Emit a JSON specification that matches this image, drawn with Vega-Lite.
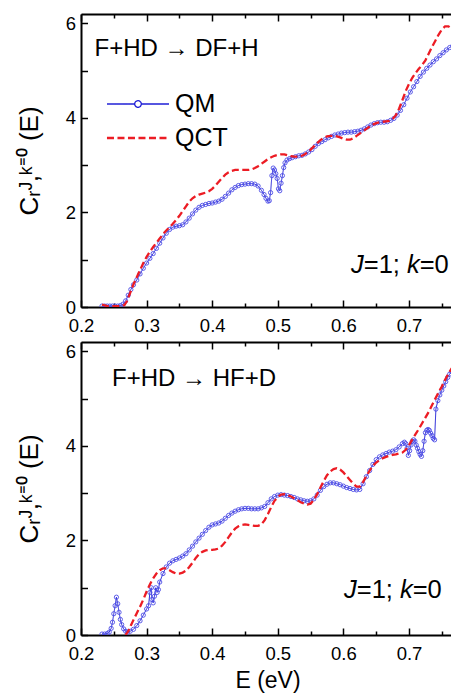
{
"$schema": "https://vega.github.io/schema/vega-lite/v6.json",
"padding": {"left": 16, "top": 13, "right": 0, "bottom": 0},
"spacing": 3,
"config": {
  "view": {"stroke": null},
  "font": "Liberation Sans",
  "axis": {"domainColor": "black", "domainWidth": 2, "tickColor": "black", "tickWidth": 1.5, "labelColor": "black", "labelFontSize": 18.5, "titleFontSize": 23, "titleFontWeight": "normal", "titleColor": "black", "grid": false, "labelFlush": false, "labelOverlap": false}
},
"resolve": {"legend": {"color": "independent", "strokeDash": "independent"}},
"datasets": {
"top": [
{"E":0.232,"C":0.02,"s":"QM"},{"E":0.236,"C":0.02,"s":"QM"},{"E":0.240,"C":0.02,"s":"QM"},{"E":0.244,"C":0.02,"s":"QM"},{"E":0.248,"C":0.02,"s":"QM"},{"E":0.252,"C":0.02,"s":"QM"},{"E":0.256,"C":0.02,"s":"QM"},{"E":0.260,"C":0.03,"s":"QM"},{"E":0.264,"C":0.06,"s":"QM"},{"E":0.268,"C":0.13,"s":"QM"},{"E":0.272,"C":0.25,"s":"QM"},{"E":0.276,"C":0.37,"s":"QM"},{"E":0.280,"C":0.47,"s":"QM"},{"E":0.285,"C":0.57,"s":"QM"},{"E":0.290,"C":0.70,"s":"QM"},{"E":0.295,"C":0.82,"s":"QM"},{"E":0.300,"C":0.93,"s":"QM"},{"E":0.305,"C":1.03,"s":"QM"},{"E":0.310,"C":1.13,"s":"QM"},{"E":0.315,"C":1.24,"s":"QM"},{"E":0.320,"C":1.35,"s":"QM"},{"E":0.325,"C":1.46,"s":"QM"},{"E":0.330,"C":1.56,"s":"QM"},{"E":0.335,"C":1.64,"s":"QM"},{"E":0.340,"C":1.69,"s":"QM"},{"E":0.345,"C":1.71,"s":"QM"},{"E":0.350,"C":1.72,"s":"QM"},{"E":0.355,"C":1.74,"s":"QM"},{"E":0.360,"C":1.80,"s":"QM"},{"E":0.365,"C":1.88,"s":"QM"},{"E":0.370,"C":1.97,"s":"QM"},{"E":0.375,"C":2.05,"s":"QM"},{"E":0.380,"C":2.11,"s":"QM"},{"E":0.385,"C":2.15,"s":"QM"},{"E":0.390,"C":2.17,"s":"QM"},{"E":0.395,"C":2.19,"s":"QM"},{"E":0.400,"C":2.20,"s":"QM"},{"E":0.405,"C":2.22,"s":"QM"},{"E":0.410,"C":2.24,"s":"QM"},{"E":0.415,"C":2.28,"s":"QM"},{"E":0.420,"C":2.34,"s":"QM"},{"E":0.425,"C":2.41,"s":"QM"},{"E":0.430,"C":2.48,"s":"QM"},{"E":0.435,"C":2.53,"s":"QM"},{"E":0.440,"C":2.57,"s":"QM"},{"E":0.445,"C":2.59,"s":"QM"},{"E":0.450,"C":2.60,"s":"QM"},{"E":0.455,"C":2.61,"s":"QM"},{"E":0.460,"C":2.61,"s":"QM"},{"E":0.465,"C":2.60,"s":"QM"},{"E":0.470,"C":2.56,"s":"QM"},{"E":0.475,"C":2.47,"s":"QM"},{"E":0.479,"C":2.38,"s":"QM"},{"E":0.482,"C":2.30,"s":"QM"},{"E":0.485,"C":2.24,"s":"QM"},{"E":0.487,"C":2.25,"s":"QM"},{"E":0.489,"C":2.42,"s":"QM"},{"E":0.491,"C":2.78,"s":"QM"},{"E":0.493,"C":2.94,"s":"QM"},{"E":0.495,"C":2.90,"s":"QM"},{"E":0.497,"C":2.82,"s":"QM"},{"E":0.499,"C":2.72,"s":"QM"},{"E":0.501,"C":2.50,"s":"QM"},{"E":0.503,"C":2.46,"s":"QM"},{"E":0.505,"C":2.62,"s":"QM"},{"E":0.507,"C":2.78,"s":"QM"},{"E":0.509,"C":2.95,"s":"QM"},{"E":0.511,"C":3.05,"s":"QM"},{"E":0.514,"C":3.11,"s":"QM"},{"E":0.518,"C":3.14,"s":"QM"},{"E":0.522,"C":3.16,"s":"QM"},{"E":0.527,"C":3.18,"s":"QM"},{"E":0.532,"C":3.20,"s":"QM"},{"E":0.537,"C":3.21,"s":"QM"},{"E":0.542,"C":3.24,"s":"QM"},{"E":0.547,"C":3.28,"s":"QM"},{"E":0.552,"C":3.33,"s":"QM"},{"E":0.557,"C":3.40,"s":"QM"},{"E":0.562,"C":3.46,"s":"QM"},{"E":0.567,"C":3.50,"s":"QM"},{"E":0.572,"C":3.54,"s":"QM"},{"E":0.577,"C":3.58,"s":"QM"},{"E":0.582,"C":3.61,"s":"QM"},{"E":0.587,"C":3.64,"s":"QM"},{"E":0.592,"C":3.66,"s":"QM"},{"E":0.597,"C":3.68,"s":"QM"},{"E":0.602,"C":3.69,"s":"QM"},{"E":0.607,"C":3.70,"s":"QM"},{"E":0.612,"C":3.70,"s":"QM"},{"E":0.617,"C":3.71,"s":"QM"},{"E":0.622,"C":3.72,"s":"QM"},{"E":0.627,"C":3.74,"s":"QM"},{"E":0.632,"C":3.77,"s":"QM"},{"E":0.637,"C":3.81,"s":"QM"},{"E":0.642,"C":3.85,"s":"QM"},{"E":0.647,"C":3.88,"s":"QM"},{"E":0.652,"C":3.90,"s":"QM"},{"E":0.657,"C":3.91,"s":"QM"},{"E":0.662,"C":3.91,"s":"QM"},{"E":0.667,"C":3.92,"s":"QM"},{"E":0.672,"C":3.95,"s":"QM"},{"E":0.677,"C":3.99,"s":"QM"},{"E":0.682,"C":4.06,"s":"QM"},{"E":0.687,"C":4.16,"s":"QM"},{"E":0.692,"C":4.28,"s":"QM"},{"E":0.697,"C":4.42,"s":"QM"},{"E":0.702,"C":4.55,"s":"QM"},{"E":0.707,"C":4.66,"s":"QM"},{"E":0.712,"C":4.77,"s":"QM"},{"E":0.717,"C":4.88,"s":"QM"},{"E":0.722,"C":4.97,"s":"QM"},{"E":0.727,"C":5.05,"s":"QM"},{"E":0.732,"C":5.12,"s":"QM"},{"E":0.737,"C":5.19,"s":"QM"},{"E":0.742,"C":5.25,"s":"QM"},{"E":0.747,"C":5.32,"s":"QM"},{"E":0.752,"C":5.38,"s":"QM"},{"E":0.757,"C":5.44,"s":"QM"},{"E":0.762,"C":5.49,"s":"QM"},{"E":0.767,"C":5.53,"s":"QM"},
{"E":0.232,"C":0.05,"s":"QCT"},{"E":0.240,"C":0.02,"s":"QCT"},{"E":0.250,"C":0.02,"s":"QCT"},{"E":0.260,"C":0.02,"s":"QCT"},{"E":0.266,"C":0.04,"s":"QCT"},{"E":0.270,"C":0.12,"s":"QCT"},{"E":0.275,"C":0.30,"s":"QCT"},{"E":0.280,"C":0.48,"s":"QCT"},{"E":0.285,"C":0.63,"s":"QCT"},{"E":0.290,"C":0.78,"s":"QCT"},{"E":0.295,"C":0.93,"s":"QCT"},{"E":0.300,"C":1.06,"s":"QCT"},{"E":0.305,"C":1.17,"s":"QCT"},{"E":0.310,"C":1.27,"s":"QCT"},{"E":0.315,"C":1.36,"s":"QCT"},{"E":0.320,"C":1.45,"s":"QCT"},{"E":0.325,"C":1.54,"s":"QCT"},{"E":0.330,"C":1.62,"s":"QCT"},{"E":0.335,"C":1.69,"s":"QCT"},{"E":0.340,"C":1.76,"s":"QCT"},{"E":0.345,"C":1.84,"s":"QCT"},{"E":0.350,"C":1.93,"s":"QCT"},{"E":0.355,"C":2.03,"s":"QCT"},{"E":0.360,"C":2.13,"s":"QCT"},{"E":0.365,"C":2.23,"s":"QCT"},{"E":0.370,"C":2.30,"s":"QCT"},{"E":0.375,"C":2.35,"s":"QCT"},{"E":0.380,"C":2.38,"s":"QCT"},{"E":0.385,"C":2.40,"s":"QCT"},{"E":0.390,"C":2.42,"s":"QCT"},{"E":0.395,"C":2.45,"s":"QCT"},{"E":0.400,"C":2.50,"s":"QCT"},{"E":0.405,"C":2.57,"s":"QCT"},{"E":0.410,"C":2.65,"s":"QCT"},{"E":0.415,"C":2.73,"s":"QCT"},{"E":0.420,"C":2.80,"s":"QCT"},{"E":0.425,"C":2.85,"s":"QCT"},{"E":0.430,"C":2.88,"s":"QCT"},{"E":0.435,"C":2.90,"s":"QCT"},{"E":0.440,"C":2.90,"s":"QCT"},{"E":0.445,"C":2.90,"s":"QCT"},{"E":0.450,"C":2.90,"s":"QCT"},{"E":0.455,"C":2.90,"s":"QCT"},{"E":0.460,"C":2.91,"s":"QCT"},{"E":0.465,"C":2.94,"s":"QCT"},{"E":0.470,"C":2.98,"s":"QCT"},{"E":0.475,"C":3.03,"s":"QCT"},{"E":0.480,"C":3.08,"s":"QCT"},{"E":0.485,"C":3.13,"s":"QCT"},{"E":0.490,"C":3.17,"s":"QCT"},{"E":0.495,"C":3.20,"s":"QCT"},{"E":0.500,"C":3.22,"s":"QCT"},{"E":0.505,"C":3.23,"s":"QCT"},{"E":0.510,"C":3.23,"s":"QCT"},{"E":0.515,"C":3.21,"s":"QCT"},{"E":0.520,"C":3.19,"s":"QCT"},{"E":0.525,"C":3.18,"s":"QCT"},{"E":0.530,"C":3.18,"s":"QCT"},{"E":0.535,"C":3.19,"s":"QCT"},{"E":0.540,"C":3.22,"s":"QCT"},{"E":0.545,"C":3.27,"s":"QCT"},{"E":0.550,"C":3.33,"s":"QCT"},{"E":0.555,"C":3.40,"s":"QCT"},{"E":0.560,"C":3.47,"s":"QCT"},{"E":0.565,"C":3.53,"s":"QCT"},{"E":0.570,"C":3.58,"s":"QCT"},{"E":0.575,"C":3.61,"s":"QCT"},{"E":0.580,"C":3.62,"s":"QCT"},{"E":0.585,"C":3.62,"s":"QCT"},{"E":0.590,"C":3.61,"s":"QCT"},{"E":0.595,"C":3.59,"s":"QCT"},{"E":0.600,"C":3.56,"s":"QCT"},{"E":0.605,"C":3.54,"s":"QCT"},{"E":0.610,"C":3.54,"s":"QCT"},{"E":0.615,"C":3.57,"s":"QCT"},{"E":0.620,"C":3.62,"s":"QCT"},{"E":0.625,"C":3.67,"s":"QCT"},{"E":0.630,"C":3.72,"s":"QCT"},{"E":0.635,"C":3.77,"s":"QCT"},{"E":0.640,"C":3.82,"s":"QCT"},{"E":0.645,"C":3.86,"s":"QCT"},{"E":0.650,"C":3.89,"s":"QCT"},{"E":0.655,"C":3.91,"s":"QCT"},{"E":0.660,"C":3.92,"s":"QCT"},{"E":0.665,"C":3.93,"s":"QCT"},{"E":0.670,"C":3.94,"s":"QCT"},{"E":0.675,"C":3.98,"s":"QCT"},{"E":0.680,"C":4.06,"s":"QCT"},{"E":0.685,"C":4.20,"s":"QCT"},{"E":0.690,"C":4.38,"s":"QCT"},{"E":0.695,"C":4.57,"s":"QCT"},{"E":0.700,"C":4.72,"s":"QCT"},{"E":0.705,"C":4.85,"s":"QCT"},{"E":0.710,"C":4.95,"s":"QCT"},{"E":0.715,"C":5.04,"s":"QCT"},{"E":0.720,"C":5.12,"s":"QCT"},{"E":0.725,"C":5.22,"s":"QCT"},{"E":0.730,"C":5.36,"s":"QCT"},{"E":0.735,"C":5.50,"s":"QCT"},{"E":0.740,"C":5.63,"s":"QCT"},{"E":0.745,"C":5.76,"s":"QCT"},{"E":0.750,"C":5.87,"s":"QCT"},{"E":0.755,"C":5.94,"s":"QCT"},{"E":0.760,"C":5.94,"s":"QCT"},{"E":0.765,"C":5.89,"s":"QCT"},{"E":0.770,"C":5.85,"s":"QCT"}
],
"bottom": [
{"E":0.232,"C":0.02,"s":"QM"},{"E":0.236,"C":0.02,"s":"QM"},{"E":0.240,"C":0.03,"s":"QM"},{"E":0.243,"C":0.06,"s":"QM"},{"E":0.246,"C":0.14,"s":"QM"},{"E":0.248,"C":0.27,"s":"QM"},{"E":0.250,"C":0.45,"s":"QM"},{"E":0.252,"C":0.62,"s":"QM"},{"E":0.254,"C":0.80,"s":"QM"},{"E":0.256,"C":0.66,"s":"QM"},{"E":0.258,"C":0.48,"s":"QM"},{"E":0.260,"C":0.33,"s":"QM"},{"E":0.262,"C":0.22,"s":"QM"},{"E":0.265,"C":0.13,"s":"QM"},{"E":0.268,"C":0.08,"s":"QM"},{"E":0.271,"C":0.06,"s":"QM"},{"E":0.275,"C":0.08,"s":"QM"},{"E":0.280,"C":0.12,"s":"QM"},{"E":0.285,"C":0.20,"s":"QM"},{"E":0.290,"C":0.30,"s":"QM"},{"E":0.295,"C":0.42,"s":"QM"},{"E":0.300,"C":0.55,"s":"QM"},{"E":0.303,"C":0.62,"s":"QM"},{"E":0.305,"C":0.90,"s":"QM"},{"E":0.307,"C":1.00,"s":"QM"},{"E":0.308,"C":0.75,"s":"QM"},{"E":0.310,"C":0.68,"s":"QM"},{"E":0.312,"C":0.82,"s":"QM"},{"E":0.314,"C":1.00,"s":"QM"},{"E":0.316,"C":0.90,"s":"QM"},{"E":0.318,"C":0.96,"s":"QM"},{"E":0.320,"C":1.12,"s":"QM"},{"E":0.325,"C":1.30,"s":"QM"},{"E":0.330,"C":1.44,"s":"QM"},{"E":0.335,"C":1.52,"s":"QM"},{"E":0.340,"C":1.57,"s":"QM"},{"E":0.345,"C":1.60,"s":"QM"},{"E":0.350,"C":1.63,"s":"QM"},{"E":0.355,"C":1.67,"s":"QM"},{"E":0.360,"C":1.72,"s":"QM"},{"E":0.365,"C":1.80,"s":"QM"},{"E":0.370,"C":1.88,"s":"QM"},{"E":0.375,"C":1.97,"s":"QM"},{"E":0.380,"C":2.05,"s":"QM"},{"E":0.385,"C":2.13,"s":"QM"},{"E":0.390,"C":2.21,"s":"QM"},{"E":0.395,"C":2.28,"s":"QM"},{"E":0.400,"C":2.33,"s":"QM"},{"E":0.405,"C":2.35,"s":"QM"},{"E":0.410,"C":2.37,"s":"QM"},{"E":0.415,"C":2.41,"s":"QM"},{"E":0.420,"C":2.47,"s":"QM"},{"E":0.425,"C":2.53,"s":"QM"},{"E":0.430,"C":2.58,"s":"QM"},{"E":0.435,"C":2.62,"s":"QM"},{"E":0.440,"C":2.65,"s":"QM"},{"E":0.445,"C":2.67,"s":"QM"},{"E":0.450,"C":2.68,"s":"QM"},{"E":0.455,"C":2.68,"s":"QM"},{"E":0.460,"C":2.67,"s":"QM"},{"E":0.465,"C":2.67,"s":"QM"},{"E":0.470,"C":2.67,"s":"QM"},{"E":0.475,"C":2.69,"s":"QM"},{"E":0.480,"C":2.72,"s":"QM"},{"E":0.485,"C":2.80,"s":"QM"},{"E":0.490,"C":2.88,"s":"QM"},{"E":0.495,"C":2.93,"s":"QM"},{"E":0.500,"C":2.96,"s":"QM"},{"E":0.505,"C":2.97,"s":"QM"},{"E":0.510,"C":2.96,"s":"QM"},{"E":0.515,"C":2.95,"s":"QM"},{"E":0.520,"C":2.93,"s":"QM"},{"E":0.525,"C":2.91,"s":"QM"},{"E":0.530,"C":2.88,"s":"QM"},{"E":0.535,"C":2.86,"s":"QM"},{"E":0.540,"C":2.84,"s":"QM"},{"E":0.545,"C":2.83,"s":"QM"},{"E":0.550,"C":2.84,"s":"QM"},{"E":0.555,"C":2.88,"s":"QM"},{"E":0.560,"C":2.96,"s":"QM"},{"E":0.565,"C":3.06,"s":"QM"},{"E":0.570,"C":3.14,"s":"QM"},{"E":0.575,"C":3.19,"s":"QM"},{"E":0.580,"C":3.22,"s":"QM"},{"E":0.585,"C":3.22,"s":"QM"},{"E":0.590,"C":3.20,"s":"QM"},{"E":0.595,"C":3.18,"s":"QM"},{"E":0.600,"C":3.15,"s":"QM"},{"E":0.605,"C":3.12,"s":"QM"},{"E":0.610,"C":3.10,"s":"QM"},{"E":0.615,"C":3.08,"s":"QM"},{"E":0.620,"C":3.07,"s":"QM"},{"E":0.625,"C":3.08,"s":"QM"},{"E":0.630,"C":3.20,"s":"QM"},{"E":0.635,"C":3.35,"s":"QM"},{"E":0.640,"C":3.48,"s":"QM"},{"E":0.645,"C":3.61,"s":"QM"},{"E":0.650,"C":3.71,"s":"QM"},{"E":0.655,"C":3.77,"s":"QM"},{"E":0.660,"C":3.81,"s":"QM"},{"E":0.665,"C":3.84,"s":"QM"},{"E":0.670,"C":3.87,"s":"QM"},{"E":0.675,"C":3.89,"s":"QM"},{"E":0.680,"C":3.92,"s":"QM"},{"E":0.685,"C":3.98,"s":"QM"},{"E":0.690,"C":4.05,"s":"QM"},{"E":0.693,"C":4.08,"s":"QM"},{"E":0.695,"C":4.05,"s":"QM"},{"E":0.697,"C":3.95,"s":"QM"},{"E":0.699,"C":3.80,"s":"QM"},{"E":0.701,"C":3.90,"s":"QM"},{"E":0.703,"C":4.02,"s":"QM"},{"E":0.705,"C":4.10,"s":"QM"},{"E":0.707,"C":4.13,"s":"QM"},{"E":0.709,"C":4.10,"s":"QM"},{"E":0.711,"C":4.02,"s":"QM"},{"E":0.713,"C":3.95,"s":"QM"},{"E":0.715,"C":3.88,"s":"QM"},{"E":0.717,"C":3.82,"s":"QM"},{"E":0.719,"C":3.78,"s":"QM"},{"E":0.721,"C":3.90,"s":"QM"},{"E":0.723,"C":4.10,"s":"QM"},{"E":0.725,"C":4.28,"s":"QM"},{"E":0.727,"C":4.33,"s":"QM"},{"E":0.729,"C":4.35,"s":"QM"},{"E":0.731,"C":4.33,"s":"QM"},{"E":0.733,"C":4.27,"s":"QM"},{"E":0.735,"C":4.22,"s":"QM"},{"E":0.737,"C":4.16,"s":"QM"},{"E":0.739,"C":4.13,"s":"QM"},{"E":0.741,"C":4.78,"s":"QM"},{"E":0.744,"C":4.96,"s":"QM"},{"E":0.747,"C":5.08,"s":"QM"},{"E":0.750,"C":5.18,"s":"QM"},{"E":0.753,"C":5.27,"s":"QM"},{"E":0.756,"C":5.36,"s":"QM"},{"E":0.759,"C":5.45,"s":"QM"},{"E":0.762,"C":5.52,"s":"QM"},{"E":0.765,"C":5.57,"s":"QM"},{"E":0.768,"C":5.60,"s":"QM"},
{"E":0.268,"C":0.00,"s":"QCT"},{"E":0.272,"C":0.08,"s":"QCT"},{"E":0.276,"C":0.20,"s":"QCT"},{"E":0.280,"C":0.32,"s":"QCT"},{"E":0.285,"C":0.46,"s":"QCT"},{"E":0.290,"C":0.60,"s":"QCT"},{"E":0.295,"C":0.75,"s":"QCT"},{"E":0.300,"C":0.92,"s":"QCT"},{"E":0.305,"C":1.07,"s":"QCT"},{"E":0.310,"C":1.20,"s":"QCT"},{"E":0.315,"C":1.30,"s":"QCT"},{"E":0.320,"C":1.37,"s":"QCT"},{"E":0.325,"C":1.41,"s":"QCT"},{"E":0.330,"C":1.41,"s":"QCT"},{"E":0.335,"C":1.37,"s":"QCT"},{"E":0.340,"C":1.33,"s":"QCT"},{"E":0.345,"C":1.30,"s":"QCT"},{"E":0.350,"C":1.30,"s":"QCT"},{"E":0.355,"C":1.32,"s":"QCT"},{"E":0.360,"C":1.36,"s":"QCT"},{"E":0.365,"C":1.44,"s":"QCT"},{"E":0.370,"C":1.53,"s":"QCT"},{"E":0.375,"C":1.63,"s":"QCT"},{"E":0.380,"C":1.71,"s":"QCT"},{"E":0.385,"C":1.76,"s":"QCT"},{"E":0.390,"C":1.79,"s":"QCT"},{"E":0.395,"C":1.80,"s":"QCT"},{"E":0.400,"C":1.80,"s":"QCT"},{"E":0.405,"C":1.81,"s":"QCT"},{"E":0.410,"C":1.83,"s":"QCT"},{"E":0.415,"C":1.89,"s":"QCT"},{"E":0.420,"C":1.97,"s":"QCT"},{"E":0.425,"C":2.07,"s":"QCT"},{"E":0.430,"C":2.17,"s":"QCT"},{"E":0.435,"C":2.25,"s":"QCT"},{"E":0.440,"C":2.30,"s":"QCT"},{"E":0.445,"C":2.33,"s":"QCT"},{"E":0.450,"C":2.34,"s":"QCT"},{"E":0.455,"C":2.33,"s":"QCT"},{"E":0.460,"C":2.32,"s":"QCT"},{"E":0.465,"C":2.31,"s":"QCT"},{"E":0.470,"C":2.31,"s":"QCT"},{"E":0.475,"C":2.34,"s":"QCT"},{"E":0.480,"C":2.43,"s":"QCT"},{"E":0.485,"C":2.56,"s":"QCT"},{"E":0.490,"C":2.71,"s":"QCT"},{"E":0.495,"C":2.84,"s":"QCT"},{"E":0.500,"C":2.92,"s":"QCT"},{"E":0.505,"C":2.97,"s":"QCT"},{"E":0.510,"C":2.98,"s":"QCT"},{"E":0.515,"C":2.96,"s":"QCT"},{"E":0.520,"C":2.93,"s":"QCT"},{"E":0.525,"C":2.89,"s":"QCT"},{"E":0.530,"C":2.85,"s":"QCT"},{"E":0.535,"C":2.81,"s":"QCT"},{"E":0.540,"C":2.78,"s":"QCT"},{"E":0.545,"C":2.76,"s":"QCT"},{"E":0.550,"C":2.78,"s":"QCT"},{"E":0.555,"C":2.86,"s":"QCT"},{"E":0.560,"C":2.98,"s":"QCT"},{"E":0.565,"C":3.12,"s":"QCT"},{"E":0.570,"C":3.26,"s":"QCT"},{"E":0.575,"C":3.38,"s":"QCT"},{"E":0.580,"C":3.46,"s":"QCT"},{"E":0.585,"C":3.51,"s":"QCT"},{"E":0.590,"C":3.53,"s":"QCT"},{"E":0.595,"C":3.50,"s":"QCT"},{"E":0.600,"C":3.44,"s":"QCT"},{"E":0.605,"C":3.36,"s":"QCT"},{"E":0.610,"C":3.28,"s":"QCT"},{"E":0.615,"C":3.20,"s":"QCT"},{"E":0.620,"C":3.14,"s":"QCT"},{"E":0.625,"C":3.14,"s":"QCT"},{"E":0.630,"C":3.24,"s":"QCT"},{"E":0.635,"C":3.36,"s":"QCT"},{"E":0.640,"C":3.48,"s":"QCT"},{"E":0.645,"C":3.58,"s":"QCT"},{"E":0.650,"C":3.65,"s":"QCT"},{"E":0.655,"C":3.70,"s":"QCT"},{"E":0.660,"C":3.74,"s":"QCT"},{"E":0.665,"C":3.77,"s":"QCT"},{"E":0.670,"C":3.79,"s":"QCT"},{"E":0.675,"C":3.81,"s":"QCT"},{"E":0.680,"C":3.82,"s":"QCT"},{"E":0.685,"C":3.84,"s":"QCT"},{"E":0.690,"C":3.86,"s":"QCT"},{"E":0.695,"C":3.92,"s":"QCT"},{"E":0.700,"C":4.02,"s":"QCT"},{"E":0.705,"C":4.14,"s":"QCT"},{"E":0.710,"C":4.25,"s":"QCT"},{"E":0.715,"C":4.36,"s":"QCT"},{"E":0.720,"C":4.48,"s":"QCT"},{"E":0.725,"C":4.60,"s":"QCT"},{"E":0.730,"C":4.72,"s":"QCT"},{"E":0.735,"C":4.86,"s":"QCT"},{"E":0.740,"C":5.00,"s":"QCT"},{"E":0.745,"C":5.13,"s":"QCT"},{"E":0.750,"C":5.26,"s":"QCT"},{"E":0.755,"C":5.40,"s":"QCT"},{"E":0.760,"C":5.53,"s":"QCT"},{"E":0.765,"C":5.64,"s":"QCT"},{"E":0.770,"C":5.72,"s":"QCT"}
]
},
"vconcat": [
{
  "width": 373, "height": 293,
  "layer": [
    {
      "data": {"name": "top"},
      "transform": [{"filter": "datum.s === 'QM'"}],
      "mark": {"type": "line", "strokeWidth": 1, "clip": true},
      "encoding": {
        "x": {"field": "E", "type": "quantitative", "scale": {"domain": [0.2, 0.7686], "nice": false, "zero": false},
              "axis": {"orient": "bottom", "title": null, "values": [0.2,0.25,0.3,0.35,0.4,0.45,0.5,0.55,0.6,0.65,0.7,0.75],
                       "labelExpr": "abs(datum.value*10 - round(datum.value*10)) < 0.001 ? format(datum.value, '.1f') : ''",
                       "tickSize": {"condition": {"test": "abs(datum.value*10 - round(datum.value*10)) < 0.001", "value": -7}, "value": -4},
                       "labelPadding": 16}},
        "y": {"field": "C", "type": "quantitative", "scale": {"domain": [0, 6.2], "nice": false},
              "axis": {"orient": "left", "values": [0,1,2,3,4,5,6], "labelExpr": "datum.value % 2 === 0 ? datum.label : ''", "tickSize": -6.5, "labelPadding": 12, "title": "Cᵣᴶ,ᵏ⁼⁰ (E)", "titleFontSize": 26, "titlePadding": 23}},
        "color": {"field": "s", "type": "nominal", "scale": {"domain": ["QM", "QCT"], "range": ["#1f1fd6", "#ec1c24"]},
                  "legend": {"orient": "none", "legendX": 44.5, "legendY": 77.5, "title": null, "padding": 0, "rowPadding": 8, "symbolSize": 1089, "labelFontSize": 25, "labelColor": "black", "labelOffset": 24.5,
                             "encode": {"symbols": {"update": {"shape": {"signal": "datum.value === 'QM' ? 'M-1.88,0L-0.2,0M0.2,0L1.88,0M-0.2,0A0.2,0.2,0,1,0,0.2,0A0.2,0.2,0,1,0,-0.2,0' : 'M-1.88,0L1.88,0'"}, "strokeWidth": {"signal": "datum.value === 'QM' ? 1.3 : 2.5"}}}}}},
        "strokeDash": {"field": "s", "type": "nominal", "scale": {"domain": ["QM", "QCT"], "range": [[1, 0], [7, 3.5]]},
                  "legend": {"orient": "none", "legendX": 44.5, "legendY": 77.5, "title": null, "padding": 0, "rowPadding": 8, "symbolSize": 1089, "labelFontSize": 25, "labelColor": "black", "labelOffset": 24.5,
                             "encode": {"symbols": {"update": {"shape": {"signal": "datum.value === 'QM' ? 'M-1.88,0L-0.2,0M0.2,0L1.88,0M-0.2,0A0.2,0.2,0,1,0,0.2,0A0.2,0.2,0,1,0,-0.2,0' : 'M-1.88,0L1.88,0'"}, "strokeWidth": {"signal": "datum.value === 'QM' ? 1.3 : 2.5"}}}}}}
      }
    },
    {
      "data": {"name": "top"},
      "transform": [{"filter": "datum.s === 'QM'"}],
      "mark": {"type": "point", "filled": false, "stroke": "#4d4de6", "strokeWidth": 0.9, "size": 18, "opacity": 1, "clip": true},
      "encoding": {
        "x": {"field": "E", "type": "quantitative", "scale": {"domain": [0.2, 0.7686], "nice": false, "zero": false}, "axis": null},
        "y": {"field": "C", "type": "quantitative", "scale": {"domain": [0, 6.2], "nice": false},
              "axis": {"orient": "left", "values": [0,1,2,3,4,5,6], "labelExpr": "datum.value % 2 === 0 ? datum.label : ''", "tickSize": -6.5, "labelPadding": 12, "title": "Cᵣᴶ,ᵏ⁼⁰ (E)", "titleFontSize": 26, "titlePadding": 23}}
      }
    },
    {
      "data": {"name": "top"},
      "transform": [{"filter": "datum.s === 'QCT'"}],
      "mark": {"type": "line", "strokeWidth": 2.3, "clip": true},
      "encoding": {
        "x": {"field": "E", "type": "quantitative", "scale": {"domain": [0.2, 0.7686], "nice": false, "zero": false},
              "axis": {"orient": "top", "labels": false, "title": null, "values": [0.2,0.25,0.3,0.35,0.4,0.45,0.5,0.55,0.6,0.65,0.7,0.75],
                       "tickSize": {"condition": {"test": "abs(datum.value*10 - round(datum.value*10)) < 0.001", "value": -7}, "value": -4}}},
        "y": {"field": "C", "type": "quantitative", "scale": {"domain": [0, 6.2], "nice": false},
              "axis": {"orient": "left", "values": [0,1,2,3,4,5,6], "labelExpr": "datum.value % 2 === 0 ? datum.label : ''", "tickSize": -6.5, "labelPadding": 12, "title": "Cᵣᴶ,ᵏ⁼⁰ (E)", "titleFontSize": 26, "titlePadding": 23}},
        "color": {"field": "s", "type": "nominal", "scale": {"domain": ["QM", "QCT"], "range": ["#1f1fd6", "#ec1c24"]},
                  "legend": {"orient": "none", "legendX": 44.5, "legendY": 77.5, "title": null, "padding": 0, "rowPadding": 8, "symbolSize": 1089, "labelFontSize": 25, "labelColor": "black", "labelOffset": 24.5,
                             "encode": {"symbols": {"update": {"shape": {"signal": "datum.value === 'QM' ? 'M-1.88,0L-0.2,0M0.2,0L1.88,0M-0.2,0A0.2,0.2,0,1,0,0.2,0A0.2,0.2,0,1,0,-0.2,0' : 'M-1.88,0L1.88,0'"}, "strokeWidth": {"signal": "datum.value === 'QM' ? 1.3 : 2.5"}}}}}},
        "strokeDash": {"field": "s", "type": "nominal", "scale": {"domain": ["QM", "QCT"], "range": [[1, 0], [7, 3.5]]},
                  "legend": {"orient": "none", "legendX": 44.5, "legendY": 77.5, "title": null, "padding": 0, "rowPadding": 8, "symbolSize": 1089, "labelFontSize": 25, "labelColor": "black", "labelOffset": 24.5,
                             "encode": {"symbols": {"update": {"shape": {"signal": "datum.value === 'QM' ? 'M-1.88,0L-0.2,0M0.2,0L1.88,0M-0.2,0A0.2,0.2,0,1,0,0.2,0A0.2,0.2,0,1,0,-0.2,0' : 'M-1.88,0L1.88,0'"}, "strokeWidth": {"signal": "datum.value === 'QM' ? 1.3 : 2.5"}}}}}}
      }
    },
    {
      "data": {"values": [{"t": "F+HD → DF+H"}]},
      "mark": {"type": "text", "align": "left", "baseline": "alphabetic", "fontSize": 24, "color": "black"},
      "encoding": {"text": {"field": "t"}, "x": {"datum": 0.2206, "type": "quantitative", "scale": {"domain": [0.2, 0.7686], "nice": false, "zero": false}, "axis": null},
        "y": {"datum": 5.31, "type": "quantitative", "scale": {"domain": [0, 6.2], "nice": false}, "axis": {"orient": "left", "values": [0,1,2,3,4,5,6], "labelExpr": "datum.value % 2 === 0 ? datum.label : ''", "tickSize": -6.5, "labelPadding": 12, "title": "Cᵣᴶ,ᵏ⁼⁰ (E)", "titleFontSize": 26, "titlePadding": 23}}}
    },
    {
      "data": {"values": [{"t": "J"}]},
      "mark": {"type": "text", "align": "left", "baseline": "alphabetic", "fontSize": 25.5, "fontStyle": "italic", "color": "black", "dx": 0},
      "encoding": {"text": {"field": "t"}, "x": {"datum": 0.6116, "type": "quantitative", "scale": {"domain": [0.2, 0.7686], "nice": false, "zero": false}, "axis": null},
        "y": {"datum": 0.73, "type": "quantitative", "scale": {"domain": [0, 6.2], "nice": false}, "axis": {"orient": "left", "values": [0,1,2,3,4,5,6], "labelExpr": "datum.value % 2 === 0 ? datum.label : ''", "tickSize": -6.5, "labelPadding": 12, "title": "Cᵣᴶ,ᵏ⁼⁰ (E)", "titleFontSize": 26, "titlePadding": 23}}}
    },
    {
      "data": {"values": [{"t": "=1;"}]},
      "mark": {"type": "text", "align": "left", "baseline": "alphabetic", "fontSize": 25.5, "color": "black", "dx": 12.75},
      "encoding": {"text": {"field": "t"}, "x": {"datum": 0.6116, "type": "quantitative", "scale": {"domain": [0.2, 0.7686], "nice": false, "zero": false}, "axis": null},
        "y": {"datum": 0.73, "type": "quantitative", "scale": {"domain": [0, 6.2], "nice": false}, "axis": {"orient": "left", "values": [0,1,2,3,4,5,6], "labelExpr": "datum.value % 2 === 0 ? datum.label : ''", "tickSize": -6.5, "labelPadding": 12, "title": "Cᵣᴶ,ᵏ⁼⁰ (E)", "titleFontSize": 26, "titlePadding": 23}}}
    },
    {
      "data": {"values": [{"t": "k"}]},
      "mark": {"type": "text", "align": "left", "baseline": "alphabetic", "fontSize": 25.5, "fontStyle": "italic", "color": "black", "dx": 55.95},
      "encoding": {"text": {"field": "t"}, "x": {"datum": 0.6116, "type": "quantitative", "scale": {"domain": [0.2, 0.7686], "nice": false, "zero": false}, "axis": null},
        "y": {"datum": 0.73, "type": "quantitative", "scale": {"domain": [0, 6.2], "nice": false}, "axis": {"orient": "left", "values": [0,1,2,3,4,5,6], "labelExpr": "datum.value % 2 === 0 ? datum.label : ''", "tickSize": -6.5, "labelPadding": 12, "title": "Cᵣᴶ,ᵏ⁼⁰ (E)", "titleFontSize": 26, "titlePadding": 23}}}
    },
    {
      "data": {"values": [{"t": "=0"}]},
      "mark": {"type": "text", "align": "left", "baseline": "alphabetic", "fontSize": 25.5, "color": "black", "dx": 68.7},
      "encoding": {"text": {"field": "t"}, "x": {"datum": 0.6116, "type": "quantitative", "scale": {"domain": [0.2, 0.7686], "nice": false, "zero": false}, "axis": null},
        "y": {"datum": 0.73, "type": "quantitative", "scale": {"domain": [0, 6.2], "nice": false}, "axis": {"orient": "left", "values": [0,1,2,3,4,5,6], "labelExpr": "datum.value % 2 === 0 ? datum.label : ''", "tickSize": -6.5, "labelPadding": 12, "title": "Cᵣᴶ,ᵏ⁼⁰ (E)", "titleFontSize": 26, "titlePadding": 23}}}
    }
  ]
},
{
  "width": 373, "height": 293,
  "layer": [
    {
      "data": {"name": "bottom"},
      "transform": [{"filter": "datum.s === 'QM'"}],
      "mark": {"type": "line", "strokeWidth": 1, "clip": true},
      "encoding": {
        "x": {"field": "E", "type": "quantitative", "scale": {"domain": [0.2, 0.7686], "nice": false, "zero": false},
              "axis": {"orient": "bottom", "title": "E (eV)", "titlePadding": 4, "values": [0.2,0.25,0.3,0.35,0.4,0.45,0.5,0.55,0.6,0.65,0.7,0.75],
                       "labelExpr": "abs(datum.value*10 - round(datum.value*10)) < 0.001 ? format(datum.value, '.1f') : ''",
                       "tickSize": {"condition": {"test": "abs(datum.value*10 - round(datum.value*10)) < 0.001", "value": -7}, "value": -4},
                       "labelPadding": 16}},
        "y": {"field": "C", "type": "quantitative", "scale": {"domain": [0, 6.2], "nice": false},
              "axis": {"orient": "left", "values": [0,1,2,3,4,5,6], "labelExpr": "datum.value % 2 === 0 ? datum.label : ''", "tickSize": -6.5, "labelPadding": 12, "title": "Cᵣᴶ,ᵏ⁼⁰ (E)", "titleFontSize": 26, "titlePadding": 23}},
        "color": {"field": "s", "type": "nominal", "scale": {"domain": ["QM", "QCT"], "range": ["#1f1fd6", "#ec1c24"]}, "legend": null},
        "strokeDash": {"field": "s", "type": "nominal", "scale": {"domain": ["QM", "QCT"], "range": [[1, 0], [7, 3.5]]}, "legend": null}
      }
    },
    {
      "data": {"name": "bottom"},
      "transform": [{"filter": "datum.s === 'QM'"}],
      "mark": {"type": "point", "filled": false, "stroke": "#4d4de6", "strokeWidth": 0.9, "size": 18, "opacity": 1, "clip": true},
      "encoding": {
        "x": {"field": "E", "type": "quantitative", "scale": {"domain": [0.2, 0.7686], "nice": false, "zero": false}, "axis": null},
        "y": {"field": "C", "type": "quantitative", "scale": {"domain": [0, 6.2], "nice": false},
              "axis": {"orient": "left", "values": [0,1,2,3,4,5,6], "labelExpr": "datum.value % 2 === 0 ? datum.label : ''", "tickSize": -6.5, "labelPadding": 12, "title": "Cᵣᴶ,ᵏ⁼⁰ (E)", "titleFontSize": 26, "titlePadding": 23}}
      }
    },
    {
      "data": {"name": "bottom"},
      "transform": [{"filter": "datum.s === 'QCT'"}],
      "mark": {"type": "line", "strokeWidth": 2.3, "clip": true},
      "encoding": {
        "x": {"field": "E", "type": "quantitative", "scale": {"domain": [0.2, 0.7686], "nice": false, "zero": false},
              "axis": {"orient": "top", "labels": false, "title": null, "values": [0.2,0.25,0.3,0.35,0.4,0.45,0.5,0.55,0.6,0.65,0.7,0.75],
                       "tickSize": {"condition": {"test": "abs(datum.value*10 - round(datum.value*10)) < 0.001", "value": -7}, "value": -4}}},
        "y": {"field": "C", "type": "quantitative", "scale": {"domain": [0, 6.2], "nice": false},
              "axis": {"orient": "left", "values": [0,1,2,3,4,5,6], "labelExpr": "datum.value % 2 === 0 ? datum.label : ''", "tickSize": -6.5, "labelPadding": 12, "title": "Cᵣᴶ,ᵏ⁼⁰ (E)", "titleFontSize": 26, "titlePadding": 23}},
        "color": {"field": "s", "type": "nominal", "scale": {"domain": ["QM", "QCT"], "range": ["#1f1fd6", "#ec1c24"]}, "legend": null},
        "strokeDash": {"field": "s", "type": "nominal", "scale": {"domain": ["QM", "QCT"], "range": [[1, 0], [7, 3.5]]}, "legend": null}
      }
    },
    {
      "data": {"values": [{"t": "F+HD → HF+D"}]},
      "mark": {"type": "text", "align": "left", "baseline": "alphabetic", "fontSize": 24, "color": "black"},
      "encoding": {"text": {"field": "t"}, "x": {"datum": 0.2473, "type": "quantitative", "scale": {"domain": [0.2, 0.7686], "nice": false, "zero": false}, "axis": null},
        "y": {"datum": 5.27, "type": "quantitative", "scale": {"domain": [0, 6.2], "nice": false}, "axis": {"orient": "left", "values": [0,1,2,3,4,5,6], "labelExpr": "datum.value % 2 === 0 ? datum.label : ''", "tickSize": -6.5, "labelPadding": 12, "title": "Cᵣᴶ,ᵏ⁼⁰ (E)", "titleFontSize": 26, "titlePadding": 23}}}
    },
    {
      "data": {"values": [{"t": "J"}]},
      "mark": {"type": "text", "align": "left", "baseline": "alphabetic", "fontSize": 25.5, "fontStyle": "italic", "color": "black", "dx": 0},
      "encoding": {"text": {"field": "t"}, "x": {"datum": 0.6009, "type": "quantitative", "scale": {"domain": [0.2, 0.7686], "nice": false, "zero": false}, "axis": null},
        "y": {"datum": 0.79, "type": "quantitative", "scale": {"domain": [0, 6.2], "nice": false}, "axis": {"orient": "left", "values": [0,1,2,3,4,5,6], "labelExpr": "datum.value % 2 === 0 ? datum.label : ''", "tickSize": -6.5, "labelPadding": 12, "title": "Cᵣᴶ,ᵏ⁼⁰ (E)", "titleFontSize": 26, "titlePadding": 23}}}
    },
    {
      "data": {"values": [{"t": "=1;"}]},
      "mark": {"type": "text", "align": "left", "baseline": "alphabetic", "fontSize": 25.5, "color": "black", "dx": 12.75},
      "encoding": {"text": {"field": "t"}, "x": {"datum": 0.6009, "type": "quantitative", "scale": {"domain": [0.2, 0.7686], "nice": false, "zero": false}, "axis": null},
        "y": {"datum": 0.79, "type": "quantitative", "scale": {"domain": [0, 6.2], "nice": false}, "axis": {"orient": "left", "values": [0,1,2,3,4,5,6], "labelExpr": "datum.value % 2 === 0 ? datum.label : ''", "tickSize": -6.5, "labelPadding": 12, "title": "Cᵣᴶ,ᵏ⁼⁰ (E)", "titleFontSize": 26, "titlePadding": 23}}}
    },
    {
      "data": {"values": [{"t": "k"}]},
      "mark": {"type": "text", "align": "left", "baseline": "alphabetic", "fontSize": 25.5, "fontStyle": "italic", "color": "black", "dx": 55.95},
      "encoding": {"text": {"field": "t"}, "x": {"datum": 0.6009, "type": "quantitative", "scale": {"domain": [0.2, 0.7686], "nice": false, "zero": false}, "axis": null},
        "y": {"datum": 0.79, "type": "quantitative", "scale": {"domain": [0, 6.2], "nice": false}, "axis": {"orient": "left", "values": [0,1,2,3,4,5,6], "labelExpr": "datum.value % 2 === 0 ? datum.label : ''", "tickSize": -6.5, "labelPadding": 12, "title": "Cᵣᴶ,ᵏ⁼⁰ (E)", "titleFontSize": 26, "titlePadding": 23}}}
    },
    {
      "data": {"values": [{"t": "=0"}]},
      "mark": {"type": "text", "align": "left", "baseline": "alphabetic", "fontSize": 25.5, "color": "black", "dx": 68.7},
      "encoding": {"text": {"field": "t"}, "x": {"datum": 0.6009, "type": "quantitative", "scale": {"domain": [0.2, 0.7686], "nice": false, "zero": false}, "axis": null},
        "y": {"datum": 0.79, "type": "quantitative", "scale": {"domain": [0, 6.2], "nice": false}, "axis": {"orient": "left", "values": [0,1,2,3,4,5,6], "labelExpr": "datum.value % 2 === 0 ? datum.label : ''", "tickSize": -6.5, "labelPadding": 12, "title": "Cᵣᴶ,ᵏ⁼⁰ (E)", "titleFontSize": 26, "titlePadding": 23}}}
    }
  ]
}
]
}
